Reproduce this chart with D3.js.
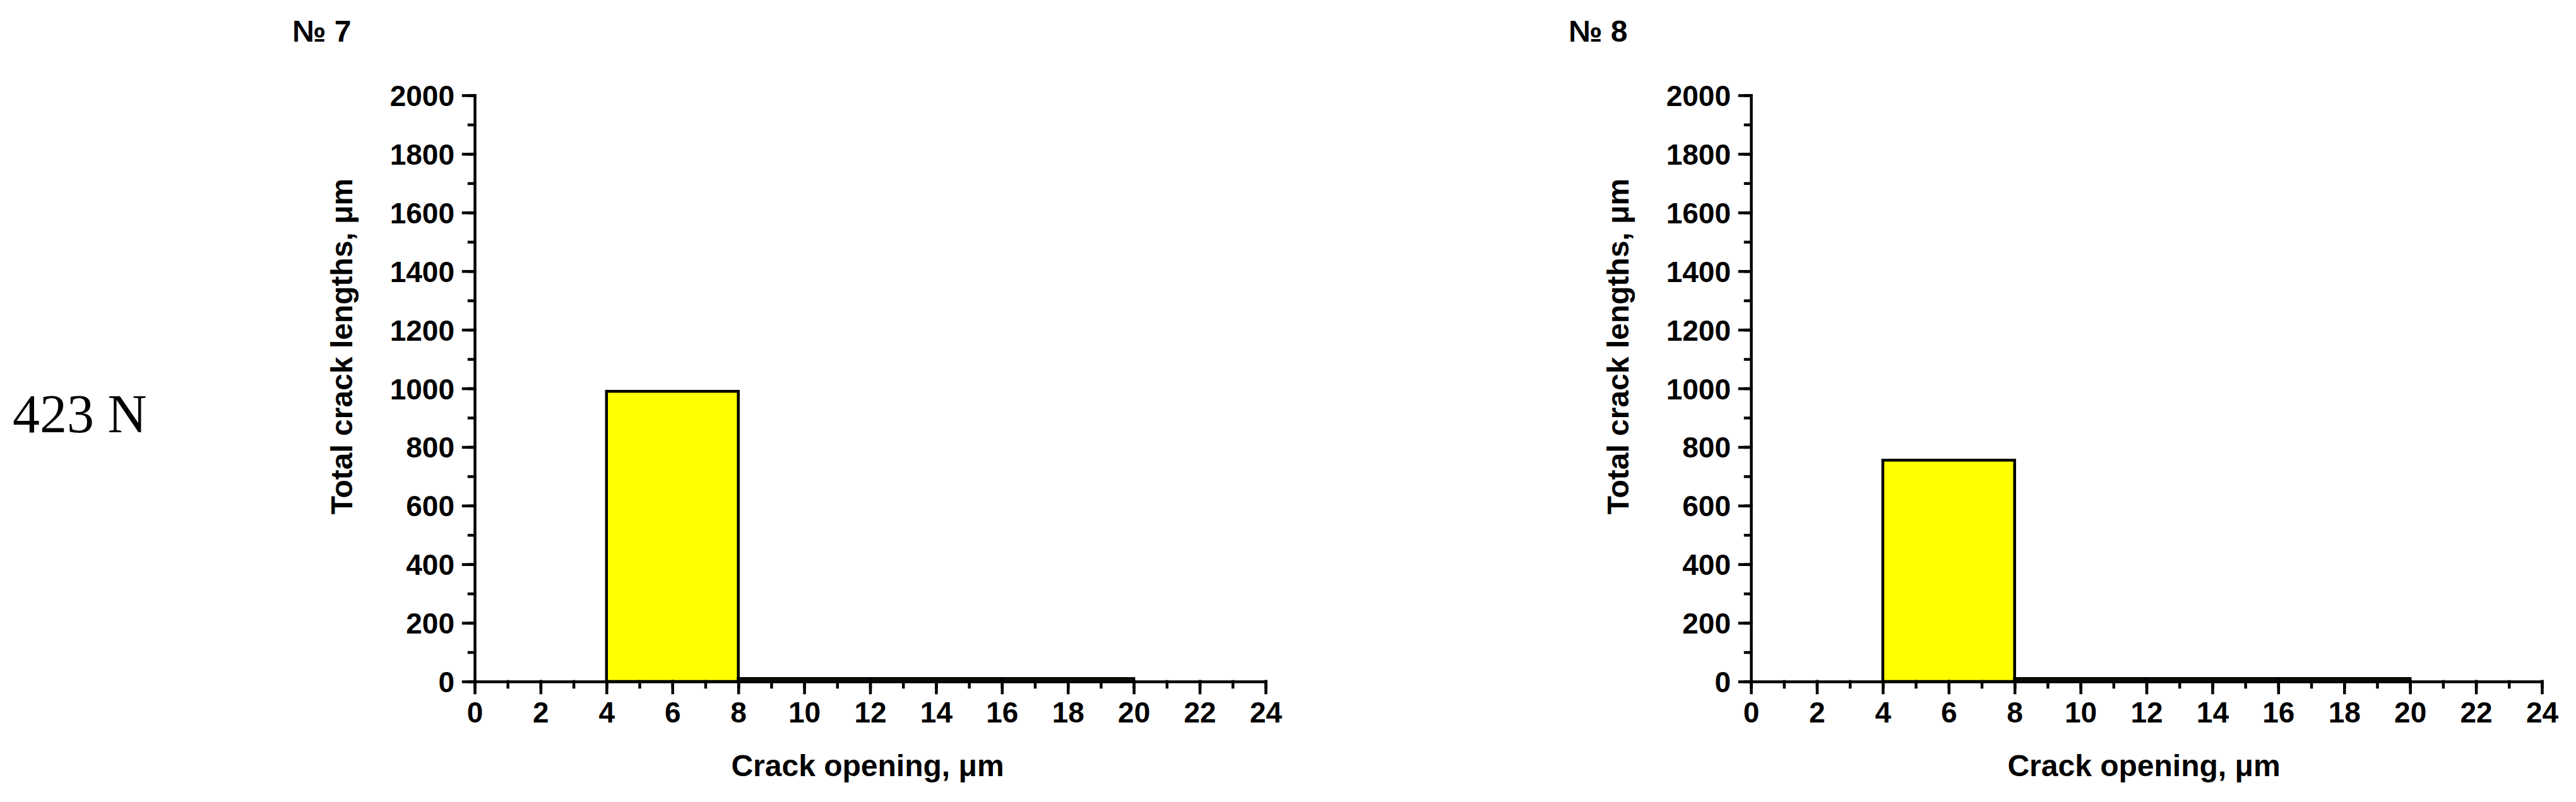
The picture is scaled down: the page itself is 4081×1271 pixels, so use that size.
<!DOCTYPE html>
<html>
<head>
<meta charset="utf-8">
<script src="https://cdn.jsdelivr.net/npm/d3@7"></script>
<style>
  body {
    margin: 0;
    background: #ffffff;
  }

  .axis path,
  .axis line {
    stroke: #000000;
    stroke-width: 4.5;
    stroke-linecap: square;
  }

  .axis text {
    font-family: "Liberation Sans", Arial, sans-serif;
    font-weight: bold;
    font-size: 46px;
    fill: #000000;
  }

  .bar {
    fill: #ffff00;
    stroke: #000000;
    stroke-width: 4.5;
  }

  .title {
    font-family: "Liberation Sans", Arial, sans-serif;
    font-weight: bold;
    font-size: 48px;
    fill: #000000;
  }

  .load {
    font-family: "Liberation Serif", "Times New Roman", serif;
    font-size: 86px;
    fill: #000000;
  }
</style>
</head>
<body>
<svg id="chart" width="4081" height="1271"></svg>
<script>
// Bins of crack opening, um (left edges, width 4)
const binStarts = [0, 4, 8, 12, 16, 20];
const binWidth = 4;

// Total crack lengths, um, per bin
const lengths7 = [0, 990, 10, 10, 10, 0];
const lengths8 = [0, 755, 10, 10, 10, 0];

const panelNames = ['№ 7', '№ 8'];
const loadLabel = '423 N';

const xTicks = [0, 2, 4, 6, 8, 10, 12, 14, 16, 18, 20, 22, 24];
const yTicks = [0, 200, 400, 600, 800, 1000, 1200, 1400, 1600, 1800, 2000];

const xLabel = 'Crack opening, μm';
const yLabel = 'Total crack lengths, μm';

const svg = d3.select('#chart');

svg.append('rect')
  .attr('width', 4081)
  .attr('height', 1271)
  .attr('fill', '#ffffff');

svg.append('text')
  .classed('load', true)
  .attr('x', 20)
  .attr('y', 685)
  .text(loadLabel);

function drawPanel(offset, name, values) {
  const left = 752 + offset;
  const right = 2005 + offset;
  const top = 151;
  const bottom = 1080;

  const x = d3.scaleLinear().domain([0, 24]).range([left, right]);
  const y = d3.scaleLinear().domain([0, 2000]).range([bottom, top]);

  const g = svg.append('g').classed('panel', true);

  // Bars (drawn first so the axis line sits over their bottom edge)
  const bins = binStarts.map((start, i) => { return {start, value: values[i]}; })
    .filter((d) => { return d.value > 0; });
  g.selectAll('.bar')
    .data(bins)
    .enter().append('rect')
    .classed('bar', true)
    .attr('x', (d) => { return x(d.start); })
    .attr('width', (d) => { return x(d.start + binWidth) - x(d.start); })
    .attr('y', (d) => { return y(d.value); })
    .attr('height', (d) => { return y(0) - y(d.value); });

  // Minor ticks
  g.append('g')
    .classed('axis', true)
    .attr('transform', `translate(0, ${bottom})`)
    .call(d3.axisBottom(x).ticks(24).tickSize(9).tickFormat(''))
    .select('.domain').remove();
  g.append('g')
    .classed('axis', true)
    .attr('transform', `translate(${left}, 0)`)
    .call(d3.axisLeft(y).ticks(20).tickSize(9).tickFormat(''))
    .select('.domain').remove();

  // Major ticks + labels
  const xAxis = g.append('g')
    .classed('axis', true)
    .attr('transform', `translate(0, ${bottom})`)
    .call(d3.axisBottom(x).tickValues(xTicks).tickFormat(d3.format('d'))
      .tickSize(18).tickSizeOuter(0).tickPadding(14));
  xAxis.selectAll('text').attr('dy', '0.71em');
  const yAxis = g.append('g')
    .classed('axis', true)
    .attr('transform', `translate(${left}, 0)`)
    .call(d3.axisLeft(y).tickValues(yTicks).tickFormat(d3.format('d'))
      .tickSize(18).tickSizeOuter(0).tickPadding(14));
  yAxis.selectAll('text').attr('dy', '0.36em');

  // Titles
  g.append('text')
    .classed('title', true)
    .attr('x', 463 + offset)
    .attr('y', 66)
    .text(name);
  g.append('text')
    .classed('title', true)
    .attr('text-anchor', 'middle')
    .attr('x', (left + right) / 2 - 4)
    .attr('y', 1230)
    .text(xLabel);
  g.append('text')
    .classed('title', true)
    .attr('text-anchor', 'middle')
    .attr('transform', `translate(${558 + offset}, 549) rotate(-90)`)
    .text(yLabel);
}

drawPanel(0, panelNames[0], lengths7);
drawPanel(2022, panelNames[1], lengths8);
</script>
</body>
</html>
